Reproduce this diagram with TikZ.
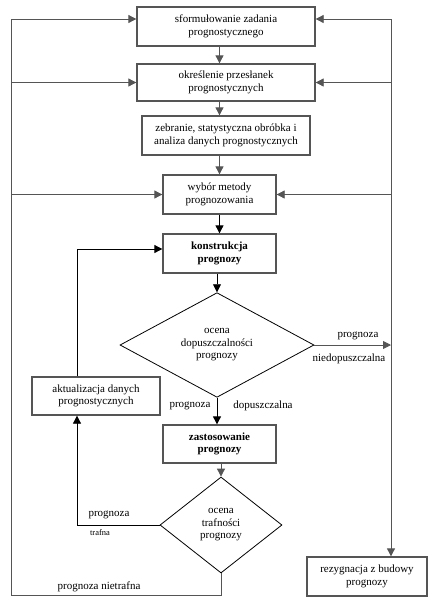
\documentclass[tikz,border=0pt]{standalone}
\usepackage{fontspec}
\setmainfont{Liberation Serif}
\usetikzlibrary{
    arrows.meta,
    calc,
    shapes.geometric
}
\definecolor{lgray}{RGB}{85,85,85}

\begin{document}
\begin{tikzpicture}[x=1pt,y=-1pt,
    font=\fontsize{11}{12.5}\selectfont,
    box/.style={draw=lgray, line width=1.3pt, align=center, inner sep=0pt},
    dia/.style={diamond, draw, line width=0.8pt, align=center, inner sep=0pt},
    garrow/.style={draw=lgray, line width=0.8pt, -{Triangle[length=8pt,width=8pt]}},
    barrow/.style={draw=black, line width=0.8pt, -{Triangle[length=8pt,width=8pt]}},
    gline/.style={draw=lgray, line width=0.8pt},
    lbl/.style={inner sep=0pt}
]
\useasboundingbox (0,0) rectangle (436,606);

% Boxes
\node[box, minimum width=178pt, minimum height=39pt] (form) at (226,26.5) {sformułowanie zadania\\prognostycznego};
\node[box, minimum width=178pt, minimum height=37pt] (przes) at (226,82.5) {określenie przesłanek\\prognostycznych};
\node[box, minimum width=168pt, minimum height=39pt] (zebr) at (226,135.5) {zebranie, statystyczna obróbka i\\analiza danych prognostycznych};
\node[box, minimum width=113pt, minimum height=39pt] (wybor) at (219.5,194.5) {wybór metody\\prognozowania};
\node[box, minimum width=113pt, minimum height=39pt] (konstr) at (219.5,253.5) {\bfseries konstrukcja\\\bfseries prognozy};
\node[box, minimum width=113pt, minimum height=38pt] (zast) at (219.5,444) {\bfseries zastosowanie\\\bfseries prognozy};
\node[box, minimum width=128pt, minimum height=38pt] (aktual) at (96,396) {aktualizacja danych\\prognostycznych};
\node[box, minimum width=120pt, minimum height=39pt] (rezyg) at (367,576.5) {rezygnacja z budowy\\prognozy};

% Decisions
\node[dia, minimum width=194pt, minimum height=96pt] (dopusz) at (217,345) {ocena\\dopuszczalności\\prognozy};
\node[dia, minimum width=122pt, minimum height=96pt] (traf) at (221,525) {ocena\\trafności\\prognozy};

% Corners of the feedback lines
\coordinate (L) at (11,595);
\coordinate (R) at (391,19);
\coordinate (K) at (77,249);

% Main chain
\draw[garrow] (form.south -| wybor.north) -- (przes.north -| wybor.north);
\draw[garrow] (przes.south -| wybor.north) -- (zebr.north -| wybor.north);
\draw[garrow] (zebr.south -| wybor.north) -- (wybor.north);
\draw[barrow] (wybor) -- (konstr);
\draw[barrow] (konstr.south -| dopusz.north) -- (dopusz.north);
\draw[barrow] (dopusz.south) -- (dopusz.south |- zast.north);
\draw[garrow] (zast.south -| traf.north) -- (traf.north);

% Left return line
\draw[gline] (traf.south) -- (traf.south |- L) -- (L) -- (L |- R);
\draw[garrow] (L |- R) -- (form.west |- R);
\draw[garrow] (L |- przes.west) -- (przes.west);
\draw[garrow] (L |- wybor.west) -- (wybor.west);

% Right return line
\draw[garrow] (R) -- (form.east |- R);
\draw[garrow] (R) -- (R |- rezyg.north);
\draw[garrow] (R |- przes.east) -- (przes.east);
\draw[garrow] (R |- wybor.east) -- (wybor.east);
\draw[garrow] (dopusz.east) -- (R |- dopusz.east);

% Update loop
\draw[barrow] (traf.west) -| (K |- aktual.south);
\draw[barrow] (K |- aktual.north) -- (K) -- (konstr.west |- K);

% Labels
\node[lbl] (l1) at (358,336) {prognoza};
\node[lbl] (l2) at (349,359) {niedopuszczalna};
\node[lbl] (l3) at (190,406) {prognoza};
\node[lbl] (l4) at (263,406) {dopuszczalna};
\node[lbl] (l5) at (109,515) {prognoza};
\node[lbl, font=\fontsize{8.5}{10}\selectfont] (l6) at (100,533) {trafna};
\node[lbl] (l7) at (99,587) {prognoza nietrafna};

\end{tikzpicture}
\end{document}
